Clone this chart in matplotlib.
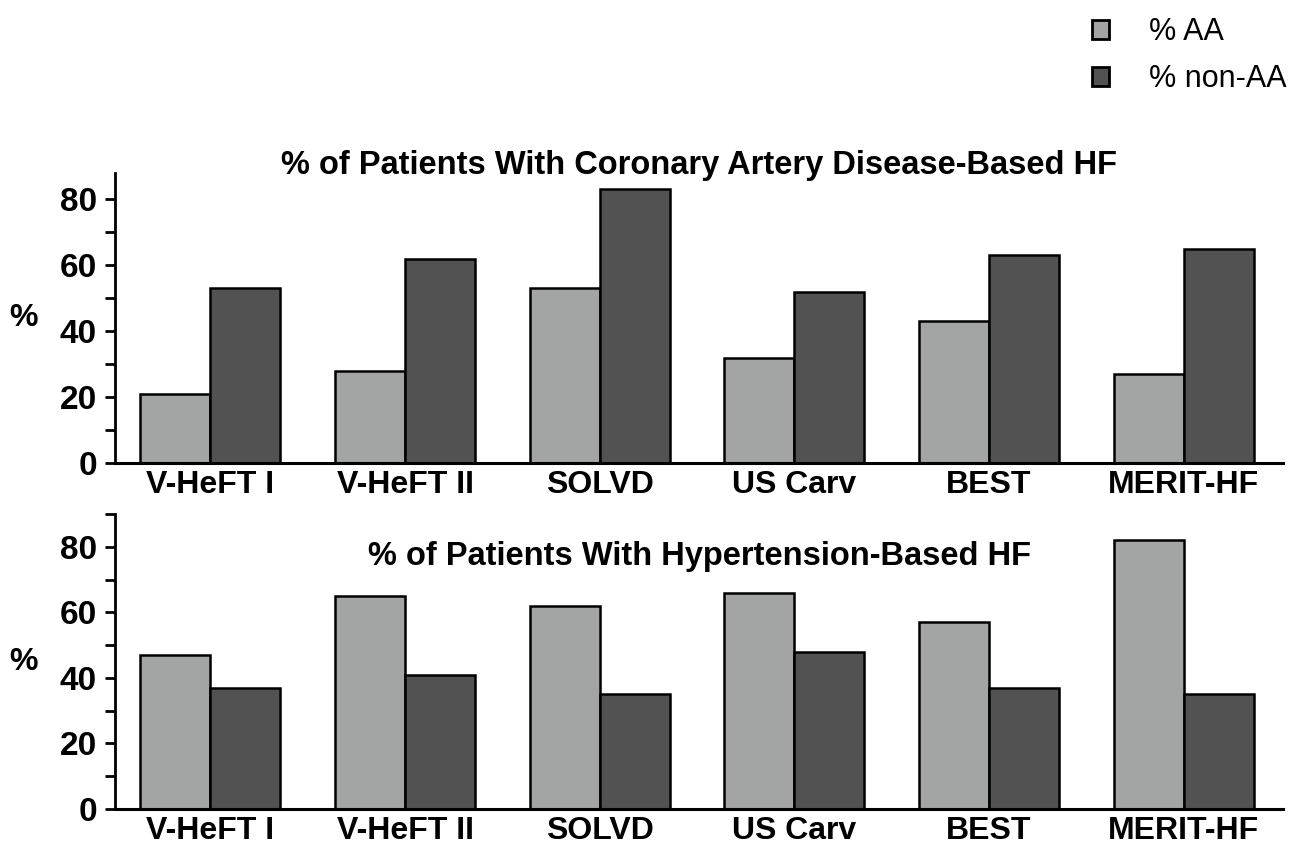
import numpy as np
import matplotlib
matplotlib.use("Agg")
import matplotlib.pyplot as plt
from matplotlib.patches import Patch
from matplotlib.ticker import MultipleLocator

plt.rcParams['font.family'] = ['Liberation Sans', 'DejaVu Sans']

# データ
trials = ["V-HeFT I", "V-HeFT II", "SOLVD", "US Carv", "BEST", "MERIT-HF"]
cad_aa = [21, 28, 53, 32, 43, 27]
cad_non_aa = [53, 62, 83, 52, 63, 65]
htn_aa = [47, 65, 62, 66, 57, 82]
htn_non_aa = [37, 41, 35, 48, 37, 35]

c_aa = "#a3a5a4"
c_non = "#525252"

fig = plt.figure(figsize=(12.94, 8.5), dpi=100)
ax1 = fig.add_axes([0.0889, 0.4553, 0.9026, 0.3412])
ax2 = fig.add_axes([0.0889, 0.0482, 0.9026, 0.3471])

x = np.arange(len(trials))
w = 0.36

def draw(ax, aa, non, title, title_y, ymax):
    ax.bar(x - w / 2, aa, w, color=c_aa, edgecolor="black", linewidth=1.8)
    ax.bar(x + w / 2, non, w, color=c_non, edgecolor="black", linewidth=1.8)
    ax.set_xlim(-0.49, 5.51)
    ax.set_ylim(0, ymax)
    ax.spines["top"].set_visible(False)
    ax.spines["right"].set_visible(False)
    ax.spines["left"].set_linewidth(2)
    ax.spines["bottom"].set_linewidth(2.2)
    ax.set_yticks([0, 20, 40, 60, 80])
    ax.yaxis.set_minor_locator(MultipleLocator(10))
    ax.tick_params(axis="y", which="both", length=7, width=2, labelsize=24, pad=6)
    ax.tick_params(axis="x", length=0, labelsize=23, pad=5)
    ax.set_xticks(x)
    ax.set_xticklabels(trials, fontweight="bold")
    for lab in ax.get_yticklabels():
        lab.set_fontweight("bold")
    ax.set_ylabel("%", rotation=0, fontsize=23, fontweight="bold", labelpad=26, va="center")
    ax.text(0.5, title_y, title, transform=ax.transAxes, ha="center", va="center",
            fontsize=23.5, fontweight="bold")

draw(ax1, cad_aa, cad_non_aa, "% of Patients With Coronary Artery Disease-Based HF", 1.025, 88)
draw(ax2, htn_aa, htn_non_aa, "% of Patients With Hypertension-Based HF", 0.855, 90)

handles = [Patch(facecolor=c_aa, edgecolor="black", linewidth=2, label="% AA"),
           Patch(facecolor=c_non, edgecolor="black", linewidth=2, label="% non-AA")]
fig.legend(handles=handles, loc="upper left", bbox_to_anchor=(0.823, 1.012), frameon=False,
           fontsize=22, handlelength=0.55, handleheight=0.55, handletextpad=1.3, labelspacing=0.55)

fig.savefig("out.png", dpi=100)
